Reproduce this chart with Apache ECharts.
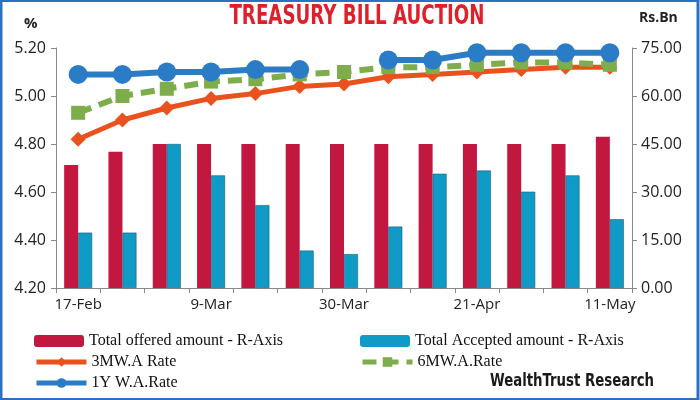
<!DOCTYPE html>
<html>
<head>
<meta charset="utf-8">
<script src="https://cdn.jsdelivr.net/npm/echarts@6/dist/echarts.min.js"></script>
<style>
html,body{margin:0;padding:0;background:#fff;}
#c{width:700px;height:400px;}
</style>
</head>
<body>
<div id="c"></div>
<script>
const categories = ['17-Feb','24-Feb','2-Mar','9-Mar','16-Mar','23-Mar','30-Mar','6-Apr','13-Apr','21-Apr','27-Apr','4-May','11-May'];
const offered  = [38.4, 42.6, 45.0, 45.0, 45.0, 45.0, 45.0, 45.0, 45.0, 45.0, 45.0, 45.0, 47.3];
const accepted = [17.3, 17.3, 45.0, 35.2, 25.9, 11.7, 10.6, 19.2, 35.7, 36.7, 30.1, 35.2, 21.5];
const rate3M = [4.82, 4.90, 4.95, 4.99, 5.01, 5.04, 5.05, 5.08, 5.09, 5.10, 5.11, 5.12, 5.12];
const rate6M = [4.93, 5.00, 5.03, 5.06, 5.07, 5.09, 5.10, 5.12, 5.12, 5.13, 5.14, 5.14, 5.13];
const rate1Y = [5.09, 5.09, 5.10, 5.10, 5.11, 5.11, null, 5.15, 5.15, 5.18, 5.18, 5.18, 5.18];
const leftTicks = [4.20, 5.20, 0.20];   // min, max, interval
const rightTicks = [0, 75, 15];

const names = ['Total offered amount - R-Axis','Total Accepted amount - R-Axis','3MW.A Rate','6MW.A.Rate','1Y W.A.Rate'];
const cRed = '#c2173f', cBlue = '#0f9bc6', cOrange = '#e9521d', cGreen = '#7dae4b', cLine = '#2b7cc6';
const axisFont = 'Open Sans';
const condFont = '"DejaVu Sans Condensed", "Liberation Sans", sans-serif';
const legendText = {fontFamily:'Liberation Serif', fontSize:16, color:'#111'};

const chart = echarts.init(document.getElementById('c'));
function lg(name, left, top, w, h, extra){
  return Object.assign({data:[name], left:left, top:top, itemWidth:w, itemHeight:h, itemGap:5,
    textStyle:legendText, padding:0, itemStyle:{borderWidth:0}}, extra||{});
}
chart.setOption({
  animation:false,
  backgroundColor:'#fff',
  grid:{left:56, right:68, top:48, bottom:112},
  legend:[
    lg(names[0], 34, 333, 50, 12),
    lg(names[1], 360, 333, 50, 12),
    lg(names[2], 34, 354, 50, 12, {lineStyle:{width:5}}),
    lg(names[3], 360, 354, 50, 12, {lineStyle:{width:5}}),
    lg(names[4], 34, 375, 50, 12, {lineStyle:{width:5}})
  ],
  xAxis:{
    type:'category', data:categories,
    axisLine:{lineStyle:{color:'#888', width:1}},
    axisTick:{show:true, interval:0, length:5, lineStyle:{color:'#888'}},
    axisLabel:{interval:2, fontFamily:axisFont, fontSize:15, color:'#222', margin:9}
  },
  yAxis:[
    {type:'value', min:leftTicks[0], max:leftTicks[1], interval:leftTicks[2],
     axisLine:{show:true, lineStyle:{color:'#888'}}, axisTick:{show:true, length:5, lineStyle:{color:'#888'}},
     splitLine:{show:false},
     axisLabel:{formatter:v=>v.toFixed(2), fontFamily:axisFont, fontSize:16, color:'#222', margin:10}},
    {type:'value', min:rightTicks[0], max:rightTicks[1], interval:rightTicks[2], position:'right',
     axisLine:{show:true, lineStyle:{color:'#888'}}, axisTick:{show:true, length:5, lineStyle:{color:'#888'}},
     splitLine:{show:false},
     axisLabel:{formatter:v=>v.toFixed(2), fontFamily:axisFont, fontSize:16, color:'#222', margin:9}}
  ],
  series:[
    {name:names[0], type:'bar', yAxisIndex:1, data:offered, barWidth:14, barGap:'0%',
     itemStyle:{color:cRed}},
    {name:names[1], type:'bar', yAxisIndex:1, data:accepted, barWidth:14, barGap:'0%',
     itemStyle:{color:cBlue, borderColor:'#1d5f78', borderWidth:0.6}},
    {name:names[2], type:'line', yAxisIndex:0, data:rate3M, symbol:'diamond', symbolSize:15, z:3,
     lineStyle:{color:cOrange, width:5}, itemStyle:{color:cOrange}},
    {name:names[3], type:'line', yAxisIndex:0, data:rate6M, symbol:'rect', symbolSize:14, z:4,
     lineStyle:{color:cGreen, width:6, type:[14,8]}, itemStyle:{color:cGreen}},
    {name:names[4], type:'line', yAxisIndex:0, data:rate1Y, symbol:'circle', symbolSize:19, z:5,
     connectNulls:false, lineStyle:{color:cLine, width:6}, itemStyle:{color:cLine}}
  ],
  graphic:[
    {type:'text', x:357, y:3, scaleX:0.75, style:{text:'TREASURY BILL AUCTION', textAlign:'center', fontFamily:condFont, fontWeight:'bold', fontSize:27, fill:'#e01f2a'}},
    {type:'text', left:24, top:16, style:{text:'%', fontFamily:axisFont, fontWeight:'bold', fontSize:15, fill:'#222'}},
    {type:'text', left:639, top:11, style:{text:'Rs.Bn', fontFamily:axisFont, fontWeight:'bold', fontSize:14, fill:'#222'}},
    {type:'text', x:490, y:373, scaleX:0.87, style:{text:'WealthTrust Research', fontFamily:condFont, fontWeight:'bold', fontSize:17, fill:'#1a1a1a'}},
    {type:'rect', shape:{x:1, y:0.5, width:697, height:399}, style:{fill:'none', stroke:'#2a72c0', lineWidth:3}, silent:true, z:100}
  ]
});
</script>
</body>
</html>
